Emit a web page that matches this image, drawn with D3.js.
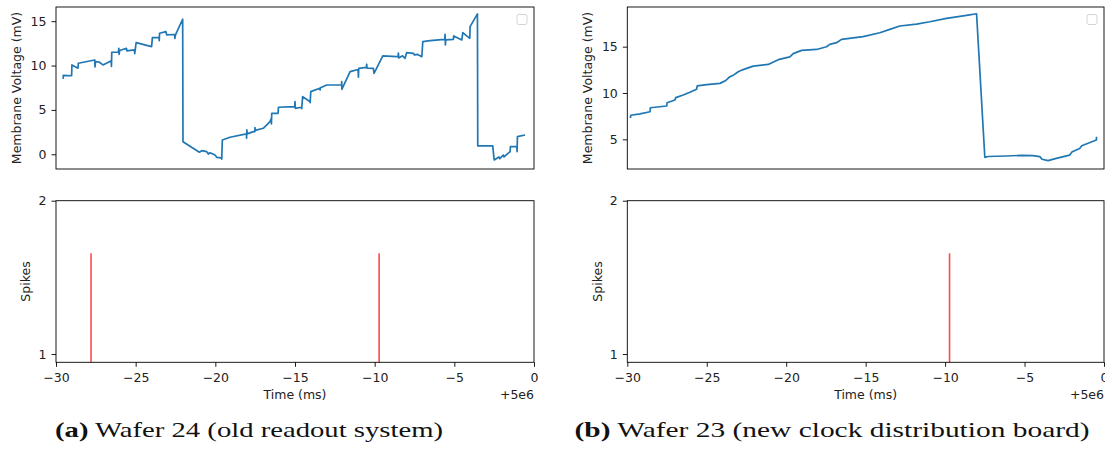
<!DOCTYPE html>
<html>
<head>
  <meta charset="UTF-8">
  <script src="https://cdn.jsdelivr.net/npm/d3@7"></script>
  <style>
    body { margin: 0; background: #fff; }
    text { font-family: "DejaVu Sans", sans-serif; fill: #222; }
    .caption { font-family: "Liberation Serif", serif; font-size: 22px; fill: #111; }
  </style>
</head>
<body>
<script>
  // time is relative to the 5e6 ms offset
  var tickValues = [-30, -25, -20, -15, -10, -5, 0];

  // wafer 24 (old readout)
  var w24Time = [-29.55, -29.54, -29.02, -29.00, -28.62, -28.60, -27.57, -27.55, -27.52, -27.30,
    -27.05, -26.53, -26.52, -26.50, -26.08, -26.06, -26.04, -26.00, -25.58, -25.55,
    -25.08, -25.06, -24.97, -24.00, -23.95, -23.53, -23.52, -23.50, -23.10, -23.06,
    -22.56, -22.54, -22.50, -22.05, -22.03, -21.00, -20.85, -20.54, -20.44, -20.33,
    -20.02, -19.91, -19.62, -19.60, -19.56, -19.08, -18.05, -18.04, -18.02, -18.00,
    -17.61, -17.52, -17.51, -17.50, -16.99, -16.57, -16.50, -16.48, -16.46, -16.06,
    -16.04, -15.02, -15.00, -14.98, -14.60, -14.58, -14.52, -14.07, -14.05, -14.01,
    -13.45, -13.43, -13.40, -13.01, -12.08, -12.07, -12.06, -11.96, -11.54, -11.04,
    -11.02, -11.00, -10.52, -10.50, -10.48, -10.08, -10.04, -9.49, -8.61, -8.53,
    -8.51, -8.49, -8.25, -8.09, -7.99, -7.57, -7.50, -7.30, -7.04, -6.98,
    -6.52, -5.60, -5.58, -5.56, -5.54, -5.06, -5.04, -4.53, -4.47, -4.03,
    -4.01, -3.55, -3.53, -2.59, -2.50, -2.20, -2.15, -1.92, -1.88, -1.50,
    -1.48, -1.08, -1.06, -1.04, -0.56];
  var w24Volt = [8.5, 8.9, 8.85, 10.07, 9.7, 10.26, 10.63, 9.85, 10.45, 10.4,
    10.07, 10.55, 9.9, 11.5, 11.5, 11.95, 11.25, 11.7, 11.95, 11.65,
    11.76, 11.35, 12.59, 12.13, 13.15, 13.15, 12.8, 13.64, 13.83, 13.45,
    13.5, 13.05, 13.45, 15.22, 1.42, 0.23, 0.41, 0.30, 0.03, 0.18,
    -0.08, -0.34, -0.40, -0.55, 1.61, 1.92, 2.29, 1.8, 2.74, 2.3,
    2.55, 2.55, 3.0, 2.7, 2.93, 3.68, 4.0, 3.42, 4.62, 4.62,
    5.30, 5.37, 5.93, 5.18, 5.3, 5.15, 6.50, 5.95, 5.82, 7.06,
    7.44, 7.25, 7.5, 7.81, 7.81, 8.19, 7.32, 7.7, 9.32, 9.55,
    8.68, 9.69, 9.8, 10.15, 9.7, 9.69, 9.13, 11.08, 11.0, 11.0,
    11.4, 10.85, 11.1, 10.82, 11.46, 11.38, 11.2, 11.25, 11.0, 12.70,
    12.81, 12.96, 13.53, 12.32, 12.9, 12.95, 13.34, 12.89, 13.71, 13.07,
    14.39, 15.82, 0.94, 0.94, -0.64, -0.3, -0.5, -0.08, -0.3, 0.30,
    0.86, 0.86, 0.3, 1.99, 2.17];
  var w24Spikes = [-27.80, -9.72];

  // wafer 23 (new clock distribution board)
  var w23Time = [-29.80, -29.78, -29.20, -28.57, -28.55, -27.52, -27.50, -27.00, -26.95, -26.48,
    -26.10, -25.64, -25.60, -25.00, -24.17, -23.80, -23.54, -23.30, -23.02, -22.75,
    -22.49, -22.07, -21.13, -20.80, -20.50, -19.77, -19.56, -19.03, -18.09, -17.46,
    -17.26, -16.83, -16.52, -15.16, -14.11, -13.48, -12.85, -11.80, -10.96, -9.91,
    -8.55, -8.02, -7.50, -7.30, -6.14, -5.20, -4.47, -4.04, -3.90, -3.52,
    -3.00, -2.16, -2.00, -1.53, -1.40, -1.00, -0.48, -0.47];
  var w23Volt = [7.3, 7.6, 7.75, 7.98, 8.41, 8.6, 8.95, 9.24, 9.5, 9.78,
    10.05, 10.4, 10.76, 10.9, 11.04, 11.35, 11.76, 11.95, 12.3, 12.5,
    12.66, 12.9, 13.08, 13.35, 13.6, 13.9, 14.25, 14.6, 14.7, 14.99,
    15.25, 15.43, 15.79, 16.08, 16.5, 16.87, 17.23, 17.44, 17.69, 18.05,
    18.41, 18.55, 3.06, 3.15, 3.2, 3.27, 3.24, 3.13, 2.85, 2.71,
    2.95, 3.3, 3.66, 4.02, 4.3, 4.57, 4.93, 5.28];
  var w23Spikes = [-9.72];

  var voltTicks24 = [0, 5, 10, 15];
  var voltTicks23 = [5, 10, 15];
  var spikeTicks = [1, 2];
  var spikeTop = 1.657;

  var svg = d3.select("body").append("svg")
    .attr("width", 1105)
    .attr("height", 459);

  function frame(g, x, y) {
    g.append("rect")
      .attr("x", x.range()[0]).attr("y", y.range()[1])
      .attr("width", x.range()[1] - x.range()[0])
      .attr("height", y.range()[0] - y.range()[1])
      .attr("fill", "none").attr("stroke", "#000").attr("stroke-width", 0.9);
  }

  function yAxis(g, x, y, ticks) {
    var ax = g.append("g")
      .attr("transform", "translate(" + x.range()[0] + ",0)")
      .call(d3.axisLeft(y).tickValues(ticks).tickSize(4.5).tickPadding(5).tickFormat(d3.format("d")));
    ax.select(".domain").remove();
    ax.selectAll("text").style("font-size", "12.5px").style("font-family", "DejaVu Sans");
    ax.selectAll("line").attr("stroke", "#000").attr("stroke-width", 0.9);
  }

  function legendBox(g, x, y) {
    g.append("rect")
      .attr("x", x.range()[1] - 17).attr("y", y.range()[1] + 7.5)
      .attr("width", 10).attr("height", 10).attr("rx", 2)
      .attr("fill", "#fff").attr("stroke", "#d4d4d4").attr("stroke-width", 1);
  }

  function panel(left, right, time, volt, domain, vticks, spikes, caption) {
    var g = svg.append("g");

    // membrane voltage
    var x = d3.scaleLinear().domain([-30, 0]).range([left, right]);
    var y = d3.scaleLinear().domain(domain).range([169, 7]);

    var pts = time.map(function (t, i) { return [t, volt[i]]; });
    g.append("path")
      .datum(pts)
      .attr("fill", "none")
      .attr("stroke", "#1f77b4")
      .attr("stroke-width", 1.7)
      .attr("stroke-linejoin", "round")
      .attr("d", d3.line().x(function (d) { return x(d[0]); }).y(function (d) { return y(d[1]); }));

    yAxis(g, x, y, vticks);
    frame(g, x, y);
    legendBox(g, x, y);

    g.append("text")
      .attr("transform", "translate(" + (left - 39.5) + "," + ((7 + 169) / 2) + ") rotate(-90)")
      .attr("text-anchor", "middle")
      .attr("dy", "0.35em")
      .style("font-size", "12.5px")
      .text("Membrane Voltage (mV)");

    // spikes
    var ys = d3.scaleLinear().domain([0.946, 2]).range([362.3, 200.7]);

    g.append("g").selectAll("line")
      .data(spikes)
      .enter().append("line")
      .attr("x1", function (d) { return x(d); })
      .attr("x2", function (d) { return x(d); })
      .attr("y1", ys(ys.domain()[0]))
      .attr("y2", ys(spikeTop))
      .attr("stroke", "#ff4a4a")
      .attr("stroke-width", 1.6);

    yAxis(g, x, ys, spikeTicks);

    var xa = g.append("g")
      .attr("transform", "translate(0," + ys.range()[0] + ")")
      .call(d3.axisBottom(x).tickValues(tickValues).tickSize(4.5).tickPadding(6.6).tickFormat(d3.format("d")));
    xa.select(".domain").remove();
    xa.selectAll("text").style("font-size", "12.5px").style("font-family", "DejaVu Sans");
    xa.selectAll("line").attr("stroke", "#000").attr("stroke-width", 0.9);

    frame(g, x, ys);

    g.append("text")
      .attr("transform", "translate(" + (left - 30) + "," + ((200.7 + 362.3) / 2) + ") rotate(-90)")
      .attr("text-anchor", "middle")
      .attr("dy", "0.35em")
      .style("font-size", "12.5px")
      .text("Spikes");

    g.append("text")
      .attr("x", (left + right) / 2)
      .attr("y", 399)
      .attr("text-anchor", "middle")
      .style("font-size", "12.5px")
      .text("Time (ms)");

    g.append("text")
      .attr("x", right)
      .attr("y", 399)
      .attr("text-anchor", "end")
      .style("font-size", "12.5px")
      .text("+5e6");

    // caption under the panel, stretched to the width of the LaTeX caption
    var cap = g.append("text")
      .attr("class", "caption")
      .attr("x", caption.x)
      .attr("y", 437)
      .attr("text-anchor", "middle");
    cap.append("tspan").style("font-weight", "bold").text(caption.tag);
    cap.append("tspan").text(" " + caption.text);
    cap.attr("textLength", caption.width).attr("lengthAdjust", "spacingAndGlyphs");
  }

  panel(56, 534, w24Time, w24Volt, [-1.66, 16.6], voltTicks24, w24Spikes,
    {x: 249, width: 388, tag: "(a)", text: "Wafer 24 (old readout system)"});
  panel(627.3, 1104, w23Time, w23Volt, [1.8, 19.28], voltTicks23, w23Spikes,
    {x: 832, width: 515, tag: "(b)", text: "Wafer 23 (new clock distribution board)"});
</script>
</body>
</html>
